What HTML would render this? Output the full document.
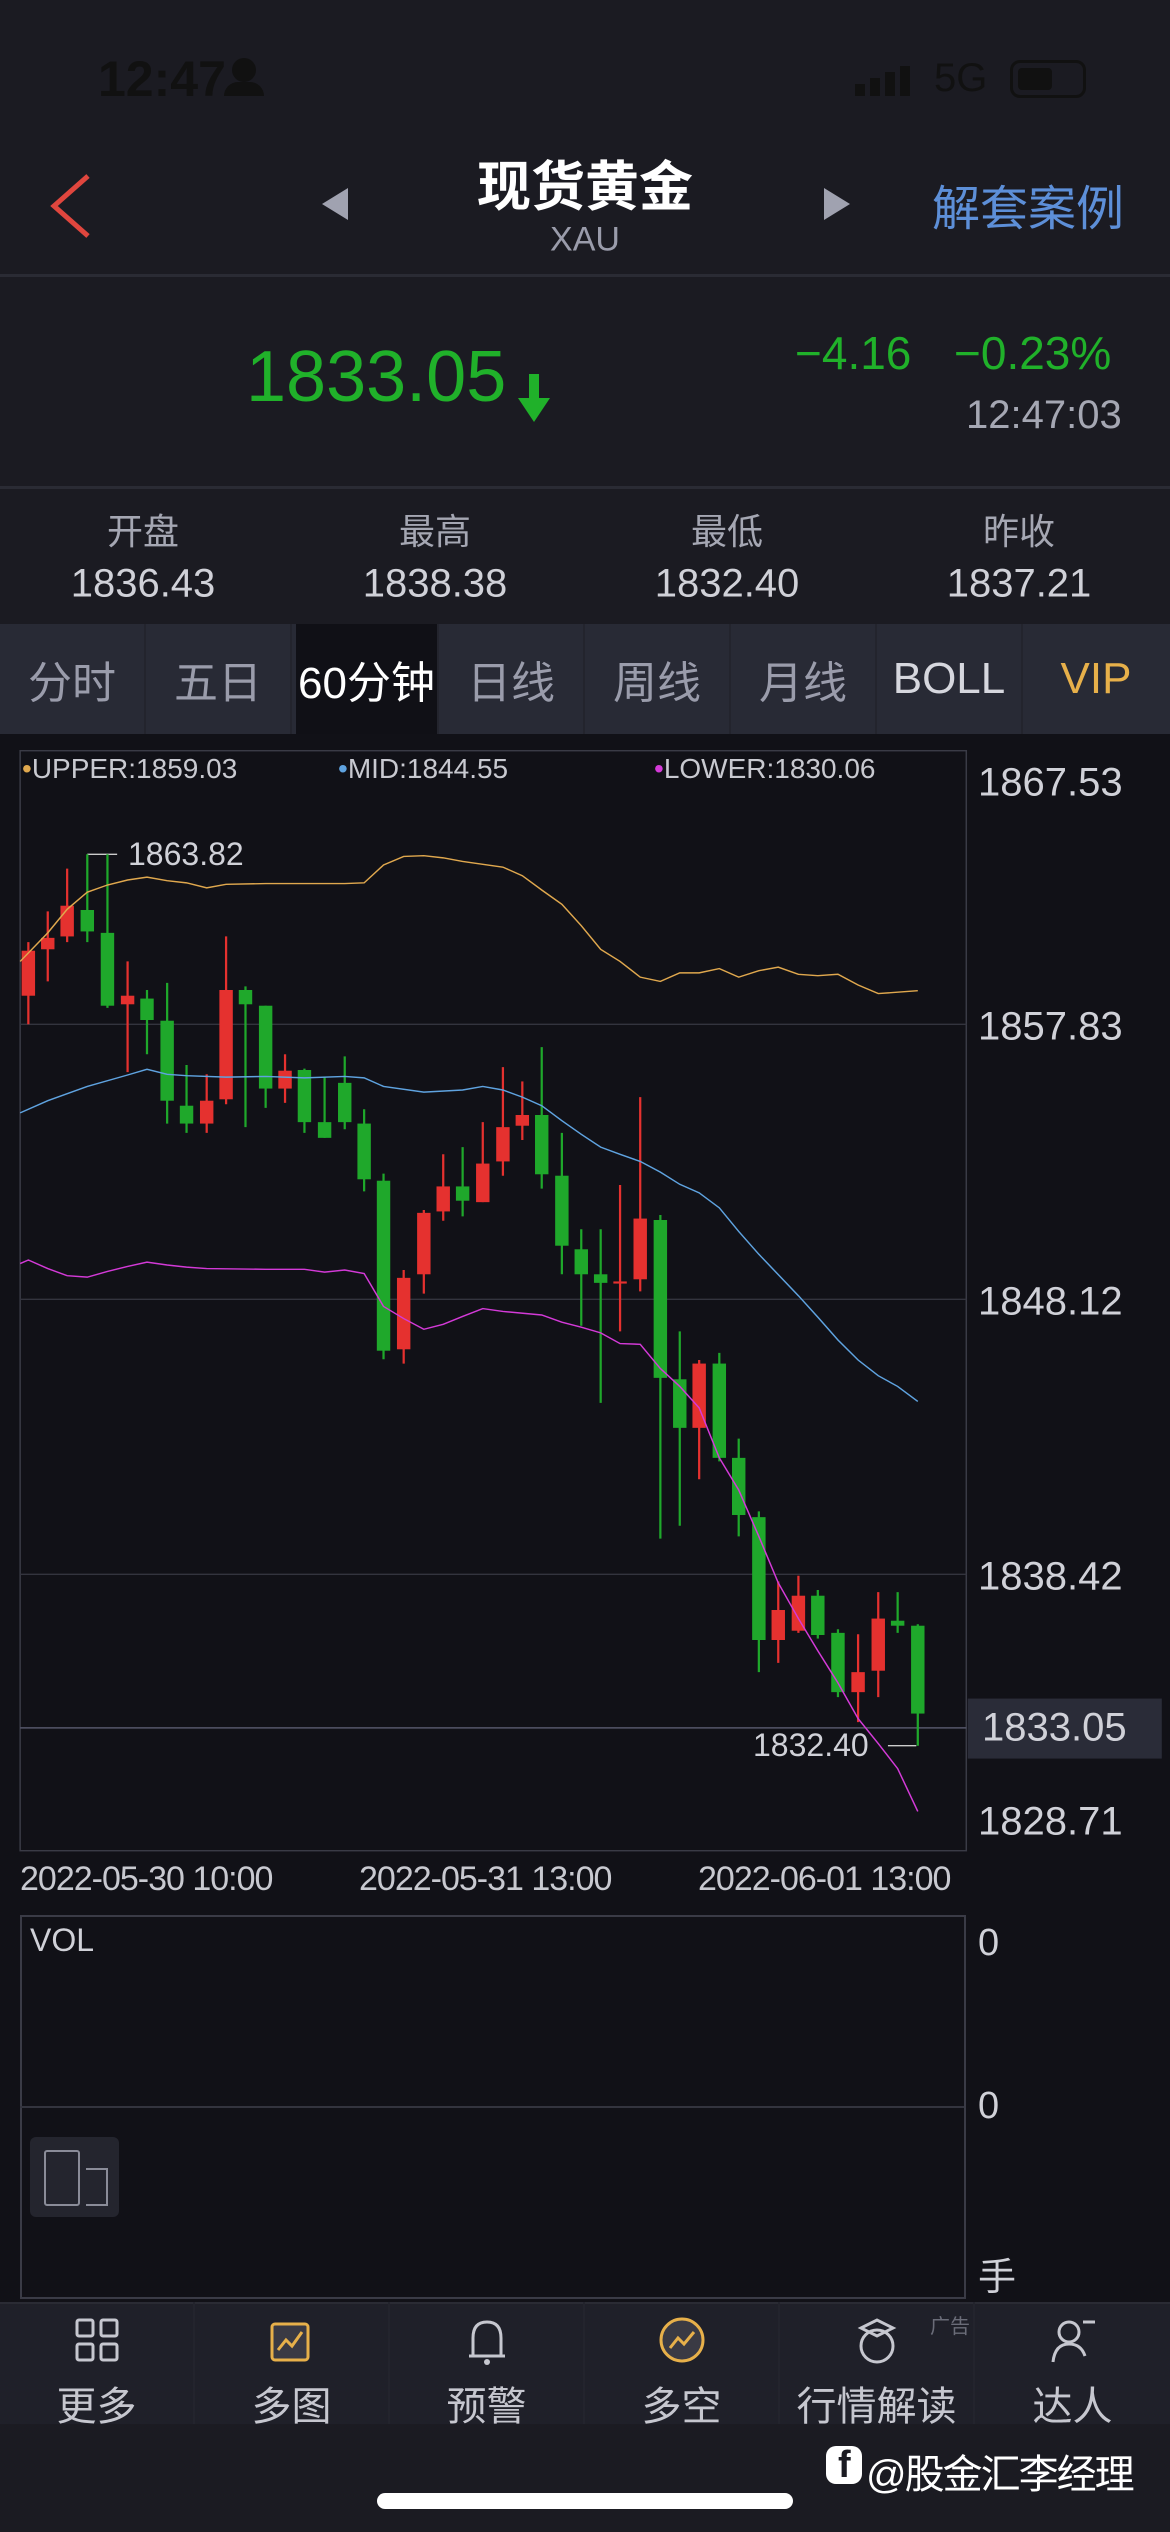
<!DOCTYPE html>
<html><head><meta charset="utf-8"><style>
*{margin:0;padding:0;box-sizing:border-box}
body{width:1170px;height:2532px;background:#1b1b22;position:relative;overflow:hidden;font-family:"Liberation Sans","Noto Sans CJK SC",sans-serif;color:#c8c9d0}
.a{position:absolute;white-space:nowrap}
.c{transform:translate(-50%,-50%)}
.ylab{position:absolute;left:978px;font-size:40px;color:#d0d1d8;transform:translateY(-50%)}
.tab{position:absolute;top:624px;height:110px;width:146px;display:flex;align-items:center;justify-content:center;font-size:44px;color:#9a9cab;border-right:2px solid #23242d}
.nav{position:absolute;top:2302px;height:122px;width:195px;border-right:2px solid #23242d;text-align:center}
.nav span{position:absolute;left:0;right:0;top:72px;font-size:40px;color:#c6c7cf}
</style></head><body>
<!-- status bar -->
<div class="a" style="left:98px;top:50px;font-size:50px;color:#111;font-weight:bold">12:47</div>
<div class="a" style="left:232px;top:58px;width:24px;height:24px;border-radius:50%;background:#111"></div>
<div class="a" style="left:224px;top:82px;width:40px;height:14px;border-radius:20px 20px 0 0;background:#111"></div>
<div class="a" style="left:855px;top:84px;width:10px;height:12px;background:#111"></div>
<div class="a" style="left:870px;top:78px;width:10px;height:18px;background:#111"></div>
<div class="a" style="left:885px;top:72px;width:10px;height:24px;background:#111"></div>
<div class="a" style="left:900px;top:66px;width:10px;height:30px;background:#111"></div>
<div class="a" style="left:934px;top:56px;font-size:40px;color:#111">5G</div>
<div class="a" style="left:1010px;top:60px;width:76px;height:38px;border:3px solid #111;border-radius:10px"></div>
<div class="a" style="left:1018px;top:68px;width:34px;height:22px;background:#111;border-radius:4px"></div>
<!-- header -->
<svg class="a" style="left:48px;top:172px" width="46" height="68"><polyline points="40,4 6,34 40,64" fill="none" stroke="#e0463e" stroke-width="5"/></svg>
<div class="a" style="left:322px;top:188px;width:0;height:0;border-top:16px solid transparent;border-bottom:16px solid transparent;border-right:26px solid #a0a2b0"></div>
<div class="a" style="left:824px;top:188px;width:0;height:0;border-top:16px solid transparent;border-bottom:16px solid transparent;border-left:26px solid #a0a2b0"></div>
<div class="a c" style="left:585px;top:182px;font-size:54px;font-weight:bold;color:#fff">现货黄金</div>
<div class="a c" style="left:585px;top:240px;font-size:34px;color:#9a9cab">XAU</div>
<div class="a c" style="left:1028px;top:204px;font-size:48px;color:#5d8fd8">解套案例</div>
<div class="a" style="left:0;top:274px;width:1170px;height:3px;background:#2a2b34"></div>
<!-- price -->
<div class="a" style="left:246px;top:336px;font-size:72px;color:#20b12a">1833.05</div>
<svg class="a" style="left:516px;top:374px" width="36" height="50"><rect x="13" y="0" width="10" height="28" fill="#20b12a"/><polygon points="2,24 34,24 18,48" fill="#20b12a"/></svg>
<div class="a" style="left:795px;top:326px;font-size:46px;color:#20b12a">−4.16</div>
<div class="a" style="left:954px;top:326px;font-size:46px;color:#20b12a">−0.23%</div>
<div class="a" style="left:966px;top:393px;font-size:40px;color:#a5a7b3">12:47:03</div>
<div class="a" style="left:0;top:486px;width:1170px;height:3px;background:#2a2b34"></div>
<div class="a c" style="left:143px;top:529px;font-size:36px;color:#a5a7b3">开盘</div>
<div class="a c" style="left:435px;top:529px;font-size:36px;color:#a5a7b3">最高</div>
<div class="a c" style="left:727px;top:529px;font-size:36px;color:#a5a7b3">最低</div>
<div class="a c" style="left:1019px;top:529px;font-size:36px;color:#a5a7b3">昨收</div>
<div class="a c" style="left:143px;top:584px;font-size:40px;color:#d0d1d8">1836.43</div>
<div class="a c" style="left:435px;top:584px;font-size:40px;color:#d0d1d8">1838.38</div>
<div class="a c" style="left:727px;top:584px;font-size:40px;color:#d0d1d8">1832.40</div>
<div class="a c" style="left:1019px;top:584px;font-size:40px;color:#d0d1d8">1837.21</div>
<!-- tabs -->
<div class="a" style="left:0;top:624px;width:1170px;height:110px;background:#282a35"></div>
<div class="tab" style="left:0">分时</div>
<div class="tab" style="left:146px">五日</div>
<div class="tab" style="left:296px;width:143px;background:#101016;color:#fff">60分钟</div>
<div class="tab" style="left:439px">日线</div>
<div class="tab" style="left:585px">周线</div>
<div class="tab" style="left:731px">月线</div>
<div class="tab" style="left:877px;color:#d6d7de">BOLL</div>
<div class="tab" style="left:1023px;color:#e7b04a;border:none">VIP</div>
<div class="a" style="left:0;top:734px;width:1170px;height:1568px;background:#111117"></div>
<!-- chart -->
<svg class="a" style="left:0;top:740px" width="1170" height="1120" viewBox="0 0 1568 1568" preserveAspectRatio="none" id="ch">
<rect x="27" y="15" width="1268" height="1540" fill="none" stroke="#3a3b46" stroke-width="2"/>
<line x1="27" y1="398" x2="1295" y2="398" stroke="#33343e" stroke-width="2"/>
<line x1="27" y1="783" x2="1295" y2="783" stroke="#33343e" stroke-width="2"/>
<line x1="27" y1="1168" x2="1295" y2="1168" stroke="#33343e" stroke-width="2"/>
<line x1="27" y1="1383" x2="1295" y2="1383" stroke="#55566a" stroke-width="2"/>
<rect x="1297" y="1342" width="260" height="84" fill="#2a2c38"/>
<line x1="117" y1="160" x2="157" y2="160" stroke="#ccc" stroke-width="2"/>
<line x1="1190" y1="1408" x2="1228" y2="1408" stroke="#ccc" stroke-width="2"/>
<g id="cd"></g>
<polyline fill="none" stroke="#e0a84e" stroke-width="2" points="27,310 64,270 90,237 117,213 144,203 171,196 197,192 224,197 250,200 277,207 303,202 356,201 408,201 462,201 488,200 514,175 541,163 568,162 594,165 620,170 674,178 700,190 726,210 753,230 779,260 805,293 831,310 858,332 885,338 911,326 937,326 964,320 990,332 1017,323 1043,318 1070,328 1096,330 1123,328 1150,343 1177,355 1230,351"/>
<polyline fill="none" stroke="#5fa3e0" stroke-width="2" points="27,522 64,505 117,485 171,469 197,461 224,468 250,470 303,472 356,471 408,473 462,471 488,473 514,485 568,493 620,490 647,485 674,490 700,500 726,512 753,533 779,552 805,570 831,580 858,590 885,605 911,622 937,634 964,655 990,688 1017,720 1070,778 1096,808 1123,840 1150,868 1177,890 1203,905 1230,926"/>
<polyline fill="none" stroke="#d43ad8" stroke-width="2" points="27,733 38,728 64,740 90,750 117,752 144,744 171,737 197,731 224,735 250,738 277,740 356,741 408,741 435,745 462,742 488,747 514,793 541,810 568,825 594,818 620,807 647,796 674,800 726,805 753,815 779,822 805,830 831,845 858,846 885,880 911,905 937,935 964,1005 990,1050 1017,1115 1043,1180 1070,1230 1096,1275 1123,1320 1150,1370 1177,1405 1203,1440 1230,1500"/>
</svg>
<script>
var d=[[38,295,358,283,398,1],[64,277,293,240,338,1],[90,232,275,180,283,1],[117,238,268,160,283,0],[144,270,372,160,375,0],[171,358,370,310,465,1],[197,362,392,350,440,0],[224,393,505,340,537,0],[250,512,537,455,550,0],[277,505,537,468,550,1],[303,350,503,275,510,1],[329,350,370,345,542,0],[356,372,488,372,515,0],[382,463,488,440,508,1],[408,462,535,460,550,0],[435,535,557,472,557,0],[462,480,535,443,545,0],[488,537,615,517,632,0],[514,617,855,607,867,0],[541,753,853,742,873,1],[568,662,748,658,775,1],[594,625,660,580,673,1],[620,625,645,570,667,0],[647,593,647,535,647,1],[674,542,590,458,610,1],[700,525,540,478,560,1],[726,525,608,430,628,0],[753,610,708,550,748,0],[779,713,748,685,820,0],[805,748,760,685,928,0],[831,758,761,623,828,1],[858,670,755,500,772,1],[885,672,893,665,1118,0],[911,895,963,828,1100,0],[937,873,963,868,1035,1],[964,873,1005,858,1010,0],[990,1005,1085,978,1115,0],[1017,1088,1260,1080,1305,0],[1043,1218,1260,1178,1292,1],[1070,1198,1247,1170,1250,1],[1096,1198,1253,1190,1258,0],[1123,1250,1333,1245,1340,0],[1150,1305,1333,1252,1375,1],[1177,1230,1303,1193,1340,1],[1203,1233,1240,1193,1250,0],[1230,1240,1363,1238,1408,0]];
var s='';d.forEach(function(c){var col=c[5]?'#e5312f':'#1fa82b';s+='<line x1="'+c[0]+'" x2="'+c[0]+'" y1="'+c[3]+'" y2="'+c[4]+'" stroke="'+col+'" stroke-width="3"/><rect x="'+(c[0]-9)+'" y="'+c[1]+'" width="18" height="'+Math.max(3,c[2]-c[1])+'" fill="'+col+'"/>';});
document.getElementById('cd').innerHTML=s;
</script>
<div class="a" style="left:22px;top:753px;font-size:28px;color:#c8c9d0"><span style="color:#e0a84e">•</span>UPPER:1859.03</div>
<div class="a" style="left:338px;top:753px;font-size:28px;color:#c8c9d0"><span style="color:#5fa3e0">•</span>MID:1844.55</div>
<div class="a" style="left:654px;top:753px;font-size:28px;color:#c8c9d0"><span style="color:#d43ad8">•</span>LOWER:1830.06</div>
<div class="a" style="left:128px;top:836px;font-size:32px;color:#d0d1d8">1863.82</div>
<div class="a" style="left:753px;top:1727px;font-size:32px;color:#d0d1d8">1832.40</div>
<div class="ylab" style="top:783px">1867.53</div>
<div class="ylab" style="top:1027px">1857.83</div>
<div class="ylab" style="top:1302px">1848.12</div>
<div class="ylab" style="top:1577px">1838.42</div>
<div class="ylab" style="top:1728px;left:982px">1833.05</div>
<div class="ylab" style="top:1822px">1828.71</div>
<div class="a" style="left:20px;top:1860px;font-size:34px;letter-spacing:-1px;color:#c8c9d0">2022-05-30 10:00</div>
<div class="a" style="left:359px;top:1860px;font-size:34px;letter-spacing:-1px;color:#c8c9d0">2022-05-31 13:00</div>
<div class="a" style="left:698px;top:1860px;font-size:34px;letter-spacing:-1px;color:#c8c9d0">2022-06-01 13:00</div>
<!-- volume -->
<div class="a" style="left:20px;top:1915px;width:946px;height:384px;border:2px solid #3a3b46"></div>
<div class="a" style="left:20px;top:2106px;width:944px;height:2px;background:#33343e"></div>
<div class="a" style="left:30px;top:1922px;font-size:32px;color:#d0d1d8">VOL</div>
<div class="a" style="left:978px;top:1922px;font-size:38px;color:#d0d1d8">0</div>
<div class="a" style="left:978px;top:2085px;font-size:38px;color:#d0d1d8">0</div>
<div class="a" style="left:978px;top:2246px;font-size:38px;color:#d0d1d8">手</div>
<div class="a" style="left:30px;top:2137px;width:89px;height:80px;background:#24252e;border-radius:6px"></div>
<div class="a" style="left:44px;top:2150px;width:36px;height:56px;border:2px solid #8a8c98;border-radius:3px"></div>
<div class="a" style="left:86px;top:2168px;width:22px;height:38px;border:2px solid #8a8c98;border-left:none"></div>
<!-- nav -->
<div class="a" style="left:0;top:2302px;width:1170px;height:122px;background:#1f2029;border-top:2px solid #2a2b34"></div>
<div class="nav" style="left:0"><svg style="margin-top:16px" width="44" height="44"><g fill="none" stroke="#c6c7cf" stroke-width="3"><rect x="2" y="2" width="16" height="16" rx="2"/><rect x="26" y="2" width="16" height="16" rx="2"/><rect x="2" y="26" width="16" height="16" rx="2"/><rect x="26" y="26" width="16" height="16" rx="2"/></g></svg><span>更多</span></div>
<div class="nav" style="left:195px"><svg style="margin-top:14px" width="48" height="48"><rect x="4" y="8" width="36" height="36" rx="3" fill="#3a3a44" stroke="#e7b04a" stroke-width="3"/><polyline points="10,34 18,24 24,30 34,16" fill="none" stroke="#e7b04a" stroke-width="3"/></svg><span>多图</span></div>
<div class="nav" style="left:390px"><svg style="margin-top:14px" width="44" height="50"><path d="M8,40 L8,22 Q8,6 22,6 Q36,6 36,22 L36,40 Z M4,40 L40,40" fill="none" stroke="#c6c7cf" stroke-width="3"/><circle cx="22" cy="46" r="3" fill="#c6c7cf"/></svg><span>预警</span></div>
<div class="nav" style="left:585px"><svg style="margin-top:14px" width="48" height="48"><circle cx="24" cy="24" r="21" fill="#3a3a44" stroke="#e7b04a" stroke-width="3"/><polyline points="12,32 20,22 26,28 36,16" fill="none" stroke="#e7b04a" stroke-width="3"/></svg><span>多空</span></div>
<div class="nav" style="left:780px"><div class="a" style="left:150px;top:8px;font-size:20px;color:#6a6c78">广告</div><svg style="margin-top:14px" width="48" height="50"><circle cx="24" cy="30" r="16" fill="none" stroke="#c6c7cf" stroke-width="3"/><polygon points="8,12 24,4 40,12 24,20" fill="none" stroke="#c6c7cf" stroke-width="3"/></svg><span>行情解读</span></div>
<div class="nav" style="left:975px;border:none"><svg style="margin-top:14px" width="48" height="50"><circle cx="20" cy="16" r="10" fill="none" stroke="#c6c7cf" stroke-width="3"/><path d="M4,46 Q6,28 20,28 Q32,28 36,40" fill="none" stroke="#c6c7cf" stroke-width="3"/><line x1="34" y1="6" x2="46" y2="6" stroke="#c6c7cf" stroke-width="3"/></svg><span>达人</span></div>
<!-- watermark -->
<div class="a" style="left:826px;top:2446px;width:36px;height:38px;background:#fff;border-radius:10px"></div>
<div class="a" style="left:838px;top:2444px;font-size:38px;font-weight:bold;color:#1b1b22">f</div>
<div class="a" style="left:866px;top:2442px;font-size:40px;letter-spacing:-2px;color:#fff">@股金汇李经理</div>
<div class="a" style="left:377px;top:2493px;width:416px;height:16px;background:#fff;border-radius:8px"></div>
</body></html>
